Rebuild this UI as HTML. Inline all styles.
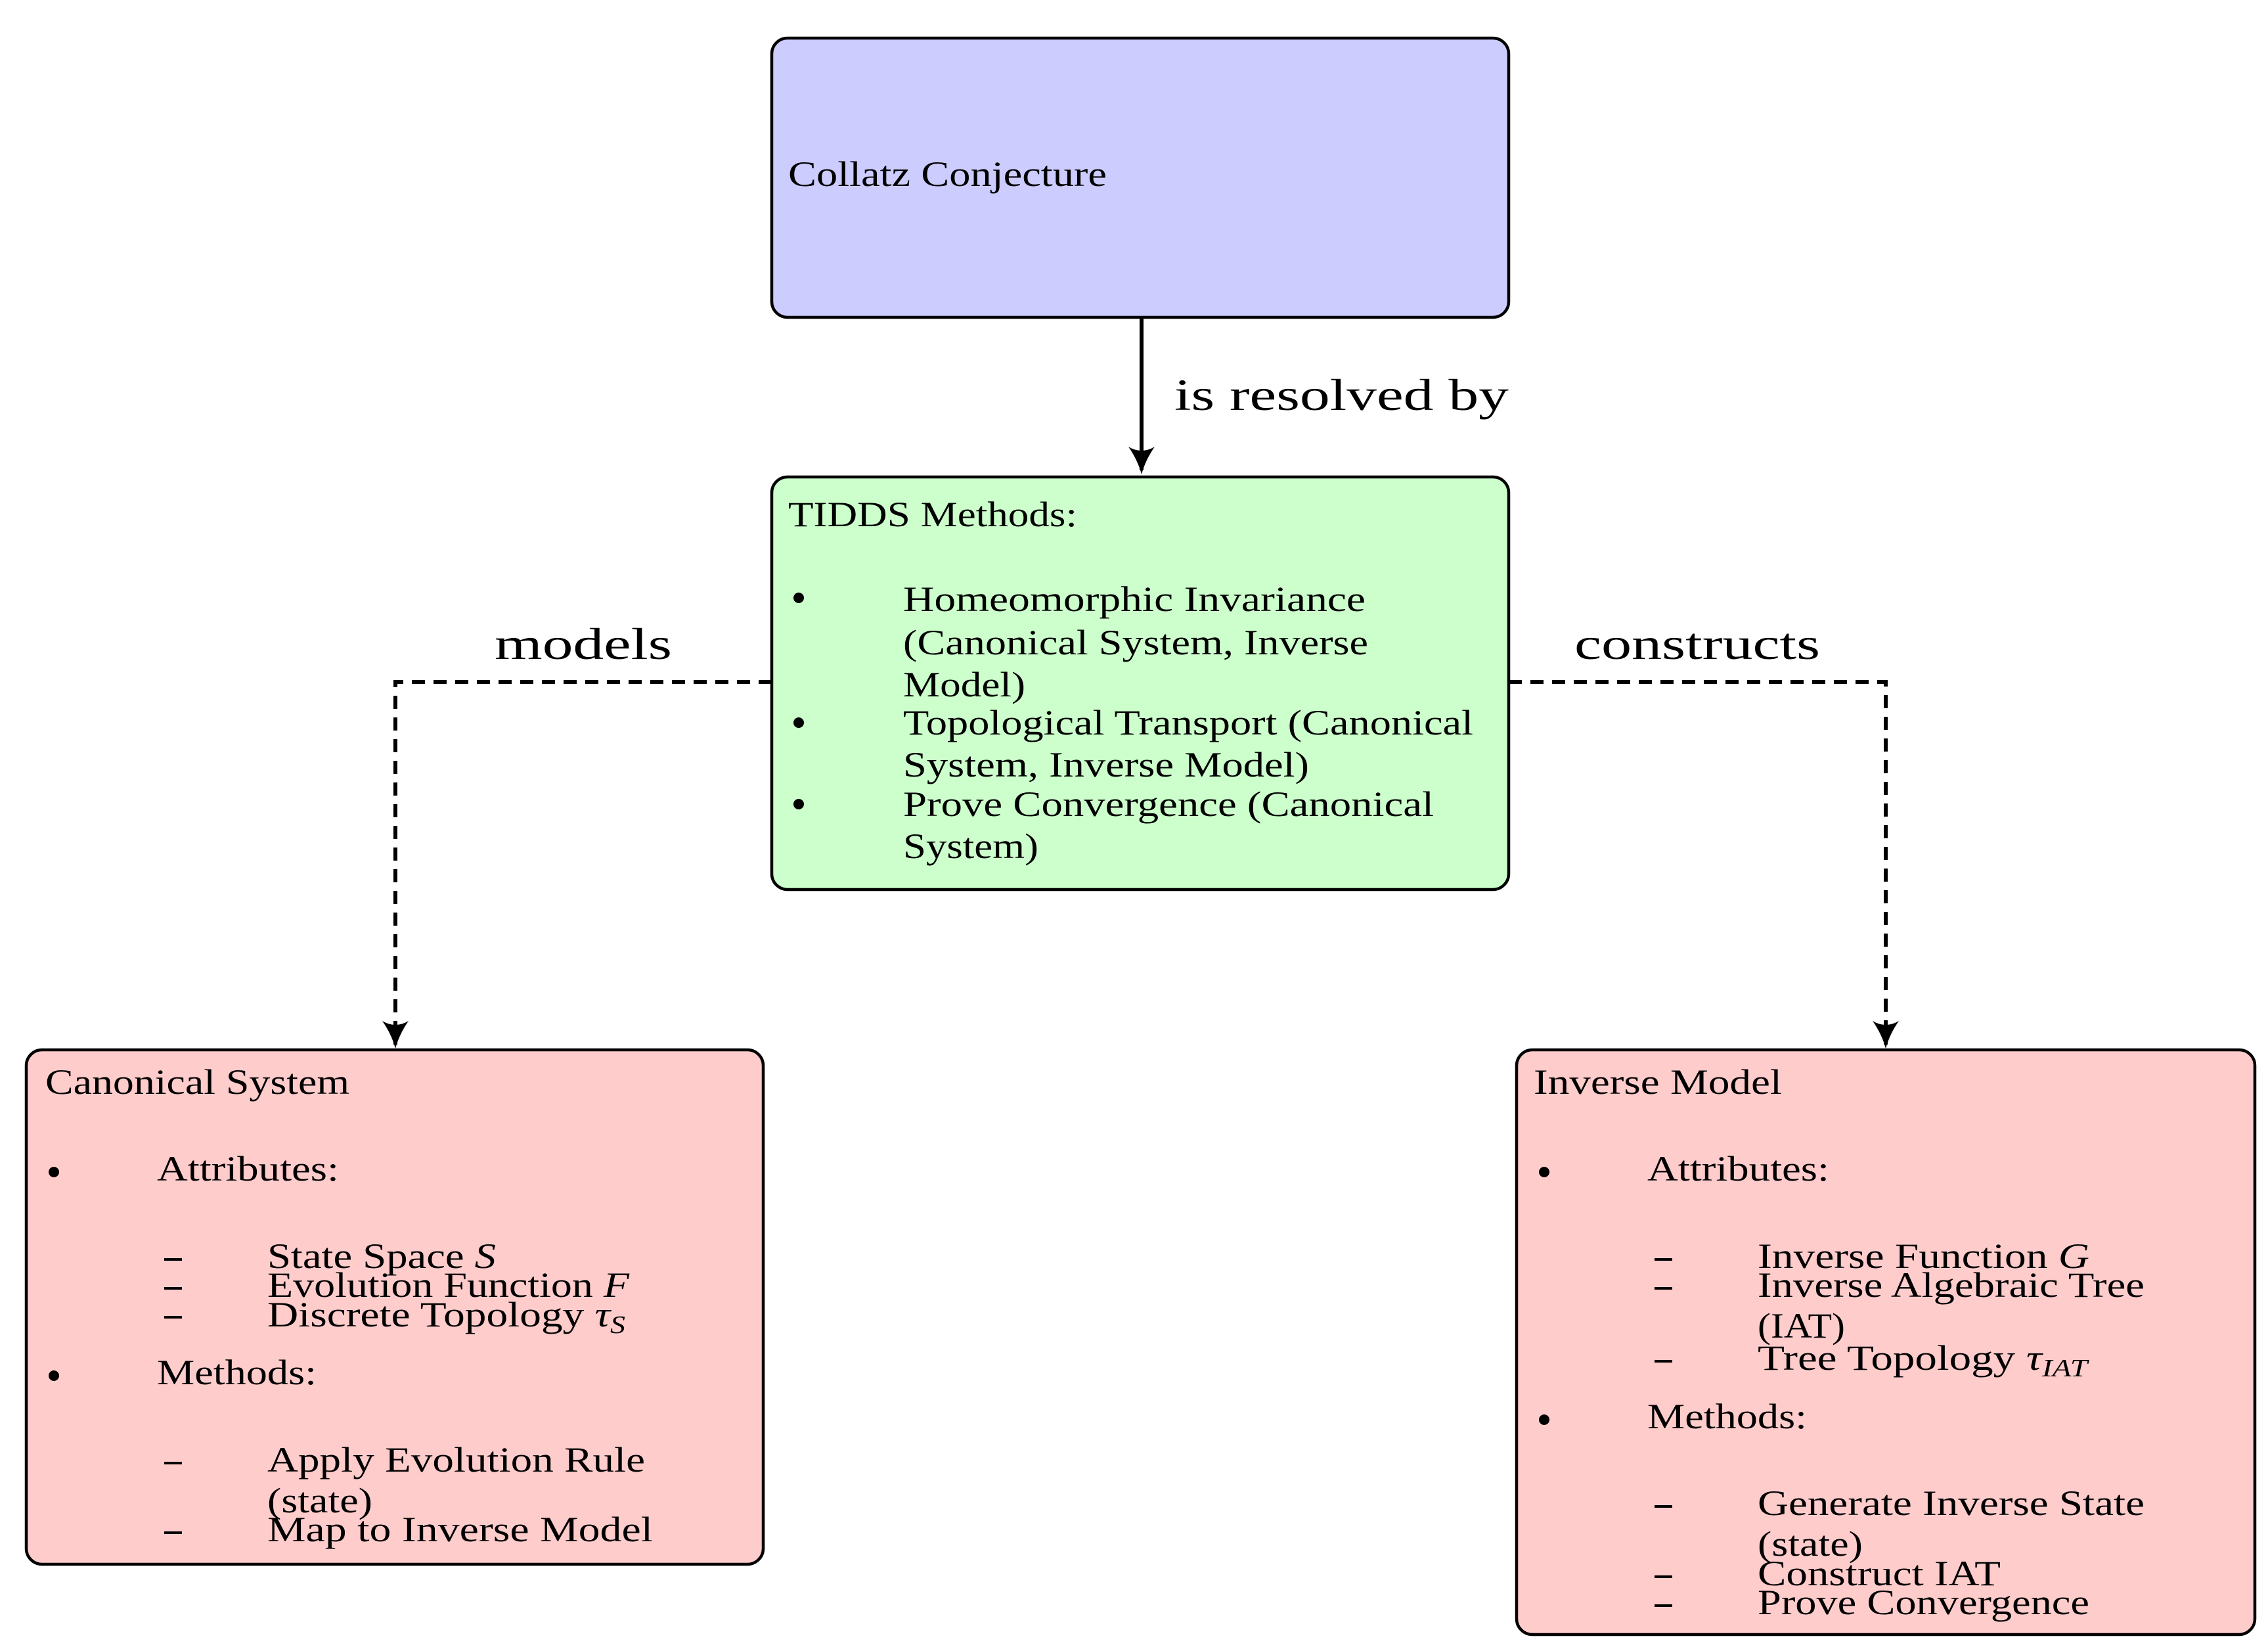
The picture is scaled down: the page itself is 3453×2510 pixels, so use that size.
<!DOCTYPE html>
<html><head><meta charset="utf-8"><style>html,body{margin:0;padding:0;background:#fff}svg{display:block}</style></head><body>
<svg width="3453" height="2510" viewBox="0 0 3453 2510" xmlns="http://www.w3.org/2000/svg" font-family="'Liberation Serif', serif" fill="#000">
<defs>
<marker id="ah" markerWidth="10" markerHeight="10" refX="8" refY="5" orient="auto" markerUnits="userSpaceOnUse" viewBox="0 0 10 10">
</marker>
</defs>
<!-- boxes -->
<rect x="1175" y="58" width="1122" height="425" rx="24" fill="#ccccff" stroke="#000" stroke-width="4.5"/>
<rect x="1175" y="726" width="1122" height="628" rx="24" fill="#ccffcc" stroke="#000" stroke-width="4.5"/>
<rect x="40" y="1598" width="1122" height="783" rx="24" fill="#ffcccc" stroke="#000" stroke-width="4.5"/>
<rect x="2309" y="1598" width="1124" height="890" rx="24" fill="#ffcccc" stroke="#000" stroke-width="4.5"/>

<!-- solid arrow -->
<line x1="1738" y1="483" x2="1738" y2="715" stroke="#000" stroke-width="6"/>
<path d="M1718,680 Q1732,700 1738,722 Q1744,700 1758,680 Q1738,692 1718,680 Z" fill="#000"/>
<text x="1788" y="624" font-size="68" textLength="509" lengthAdjust="spacingAndGlyphs">is resolved by</text>

<!-- dashed connectors -->
<polyline points="1175,1038 602,1038 602,1590" fill="none" stroke="#000" stroke-width="6" stroke-dasharray="20,13"/>
<path d="M582,1554 Q596,1574 602,1596 Q608,1574 622,1554 Q602,1566 582,1554 Z" fill="#000"/>
<polyline points="2297,1038 2871,1038 2871,1590" fill="none" stroke="#000" stroke-width="6" stroke-dasharray="20,13"/>
<path d="M2851,1554 Q2865,1574 2871,1596 Q2877,1574 2891,1554 Q2871,1566 2851,1554 Z" fill="#000"/>
<text x="753" y="1003" font-size="68" textLength="270" lengthAdjust="spacingAndGlyphs">models</text>
<text x="2397" y="1003" font-size="68" textLength="374" lengthAdjust="spacingAndGlyphs">constructs</text>

<!-- top box text -->
<text x="1200" y="283" font-size="54" textLength="485" lengthAdjust="spacingAndGlyphs">Collatz Conjecture</text>

<!-- green box text -->
<g font-size="54">
<text x="1200" y="801" textLength="440" lengthAdjust="spacingAndGlyphs">TIDDS Methods:</text>
<circle cx="1216" cy="910" r="8"/>
<text x="1375" y="930" textLength="704" lengthAdjust="spacingAndGlyphs">Homeomorphic Invariance</text>
<text x="1375" y="996" textLength="708" lengthAdjust="spacingAndGlyphs">(Canonical System, Inverse</text>
<text x="1375" y="1060" textLength="186" lengthAdjust="spacingAndGlyphs">Model)</text>
<circle cx="1216" cy="1100" r="8"/>
<text x="1375" y="1118" textLength="868" lengthAdjust="spacingAndGlyphs">Topological Transport (Canonical</text>
<text x="1375" y="1182" textLength="618" lengthAdjust="spacingAndGlyphs">System, Inverse Model)</text>
<circle cx="1216" cy="1224" r="8"/>
<text x="1375" y="1242" textLength="808" lengthAdjust="spacingAndGlyphs">Prove Convergence (Canonical</text>
<text x="1375" y="1306" textLength="206" lengthAdjust="spacingAndGlyphs">System)</text>
</g>

<!-- left box text -->
<g font-size="54">
<text x="69" y="1665" textLength="463" lengthAdjust="spacingAndGlyphs">Canonical System</text>
<circle cx="82" cy="1784" r="8"/>
<text x="239" y="1797" textLength="277" lengthAdjust="spacingAndGlyphs">Attributes:</text>
<rect x="250" y="1915" width="27" height="4"/>
<text x="407" y="1930" textLength="348" lengthAdjust="spacingAndGlyphs">State Space <tspan font-style="italic">S</tspan></text>
<rect x="250" y="1959" width="27" height="4"/>
<text x="407" y="1974" textLength="551" lengthAdjust="spacingAndGlyphs">Evolution Function <tspan font-style="italic">F</tspan></text>
<rect x="250" y="2003" width="27" height="4"/>
<text x="407" y="2019" textLength="545" lengthAdjust="spacingAndGlyphs">Discrete Topology <tspan font-style="italic">τ</tspan><tspan font-style="italic" font-size="38" dy="10">S</tspan></text>
<circle cx="82" cy="2094" r="8"/>
<text x="239" y="2107" textLength="243" lengthAdjust="spacingAndGlyphs">Methods:</text>
<rect x="250" y="2225" width="27" height="4"/>
<text x="407" y="2240" textLength="575" lengthAdjust="spacingAndGlyphs">Apply Evolution Rule</text>
<text x="407" y="2302" textLength="160" lengthAdjust="spacingAndGlyphs">(state)</text>
<rect x="250" y="2331" width="27" height="4"/>
<text x="407" y="2346" textLength="587" lengthAdjust="spacingAndGlyphs">Map to Inverse Model</text>
</g>

<!-- right box text -->
<g font-size="54">
<text x="2335" y="1665" textLength="378" lengthAdjust="spacingAndGlyphs">Inverse Model</text>
<circle cx="2351" cy="1784" r="8"/>
<text x="2508" y="1797" textLength="277" lengthAdjust="spacingAndGlyphs">Attributes:</text>
<rect x="2519" y="1915" width="27" height="4"/>
<text x="2676" y="1930" textLength="505" lengthAdjust="spacingAndGlyphs">Inverse Function <tspan font-style="italic">G</tspan></text>
<rect x="2519" y="1959" width="27" height="4"/>
<text x="2676" y="1974" textLength="589" lengthAdjust="spacingAndGlyphs">Inverse Algebraic Tree</text>
<text x="2676" y="2036" textLength="133" lengthAdjust="spacingAndGlyphs">(IAT)</text>
<rect x="2519" y="2070" width="27" height="4"/>
<text x="2676" y="2085" textLength="502" lengthAdjust="spacingAndGlyphs">Tree Topology <tspan font-style="italic">τ</tspan><tspan font-style="italic" font-size="38" dy="10">IAT</tspan></text>
<circle cx="2351" cy="2161" r="8"/>
<text x="2508" y="2174" textLength="243" lengthAdjust="spacingAndGlyphs">Methods:</text>
<rect x="2519" y="2291" width="27" height="4"/>
<text x="2676" y="2306" textLength="589" lengthAdjust="spacingAndGlyphs">Generate Inverse State</text>
<text x="2676" y="2368" textLength="160" lengthAdjust="spacingAndGlyphs">(state)</text>
<rect x="2519" y="2398" width="27" height="4"/>
<text x="2676" y="2413" textLength="370" lengthAdjust="spacingAndGlyphs">Construct IAT</text>
<rect x="2519" y="2442" width="27" height="4"/>
<text x="2676" y="2457" textLength="505" lengthAdjust="spacingAndGlyphs">Prove Convergence</text>
</g>
</svg>
</body></html>
